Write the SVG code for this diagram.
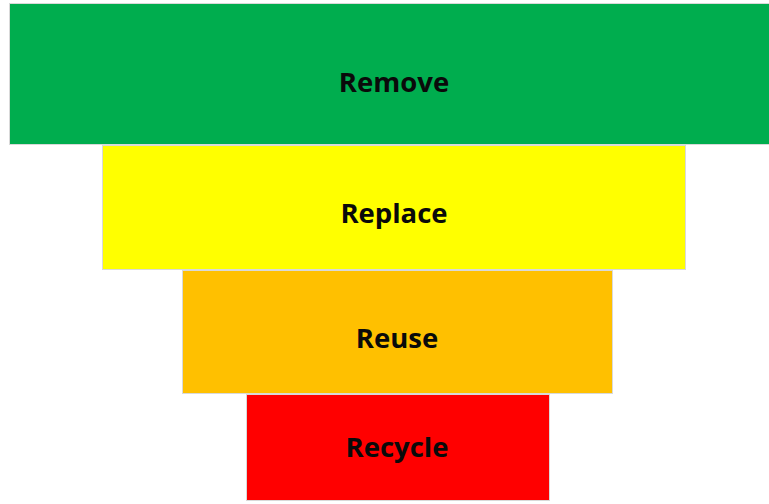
<svg xmlns="http://www.w3.org/2000/svg" width="769" height="504" viewBox="0 0 769 504">
<style>
.b{stroke:#d9d9d9;stroke-width:1}
.t{font-family:"Open Sans","Liberation Sans",sans-serif;font-weight:bold;font-size:27.5px;fill:#0a0a0a;text-anchor:middle}
</style>
<rect width="769" height="504" fill="#ffffff"/>
<g id="remove"><rect class="b" x="9.5" y="3.5" width="770" height="141" fill="#00ad4e"/><text class="t" x="394" y="92">Remove</text></g>
<g id="replace"><rect class="b" x="102.5" y="145.5" width="583" height="124" fill="#ffff00"/><text class="t" x="394" y="223">Replace</text></g>
<g id="reuse"><rect class="b" x="182.5" y="270.5" width="430" height="123" fill="#ffc000"/><text class="t" x="397" y="348">Reuse</text></g>
<g id="recycle"><rect class="b" x="246.5" y="394.5" width="303" height="106" fill="#ff0000"/><text class="t" x="397" y="457">Recycle</text></g>
<g id="connectors"/>
</svg>
